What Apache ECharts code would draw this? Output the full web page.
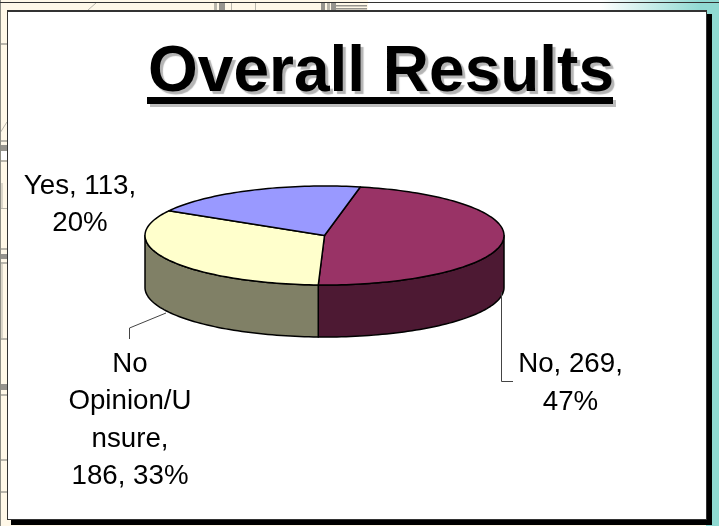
<!DOCTYPE html>
<html>
<head>
<meta charset="utf-8">
<style>html,body{margin:0;padding:0;background:#fff}#c{width:719px;height:526px}</style>
<script src="https://cdn.jsdelivr.net/npm/echarts@6/dist/echarts.min.js"></script>
</head>
<body>
<div id="c"></div>
<script>
// ---- data ----
const titleText = 'Overall Results';
const categories = ['No', 'No Opinion/Unsure', 'Yes'];
const seriesValues = [269, 186, 113];
const labelTexts = ['No, 269,\n47%', 'No\nOpinion/U\nnsure,\n186, 33%', 'Yes, 113,\n20%'];

// ---- styles and layout ----
const topColors = ['#993366', '#FFFFCC', '#9999FF'];
const sideColors = ['#4D1933', '#808066', '#4D4D80'];
const pie = { cx: 324.5, cy: 235.5, rx: 179.5, ry: 49.5, depth: 52, start: 11.5 };
const labelPos = [[570.5, 346], [130, 345.5], [80, 167.5]];
const leaders = [
  [[501.5, 292], [501.5, 381.5], [513, 381.5]],
  [[166, 313], [129.5, 328], [129.5, 339]],
  null
];
const FONT = '"Liberation Sans", Arial, Helvetica, sans-serif';
const rad = d => d * Math.PI / 180;
const total = seriesValues.reduce((a, b) => a + b, 0);

function pt(a, dy) {
  return [pie.cx + pie.rx * Math.sin(rad(a)), pie.cy - pie.ry * Math.cos(rad(a)) + (dy || 0)];
}
function arc(a0, a1, dy) {
  const out = [], n = Math.max(2, Math.ceil(Math.abs(a1 - a0) / 1.5));
  for (let i = 0; i <= n; i++) out.push(pt(a0 + (a1 - a0) * i / n, dy));
  return out;
}
function renderSlice(params, api) {
  const i = params.dataIndex;
  let before = 0;
  for (let k = 0; k < i; k++) before += seriesValues[k];
  const a0 = pie.start + before / total * 360;
  const a1 = a0 + api.value(1) / total * 360;
  const children = [];
  const s0 = Math.max(a0, 90), s1 = Math.min(a1, 270);
  if (s1 > s0) {
    children.push({
      type: 'polygon',
      shape: { points: arc(s0, s1, 0).concat(arc(s1, s0, pie.depth)) },
      style: { fill: sideColors[i], stroke: '#000', lineWidth: 1.5, lineJoin: 'round' }
    });
  }
  children.push({
    type: 'polygon',
    z2: 5,
    shape: { points: [[pie.cx, pie.cy]].concat(arc(a0, a1, 0)) },
    style: { fill: topColors[i], stroke: '#000', lineWidth: 1.5, lineJoin: 'round' }
  });
  if (leaders[i]) {
    children.push({
      type: 'polyline',
      z2: 1,
      shape: { points: leaders[i] },
      style: { fill: null, stroke: '#444', lineWidth: 1 }
    });
  }
  children.push({
    type: 'text',
    z2: 6,
    style: {
      text: labelTexts[i], x: labelPos[i][0], y: labelPos[i][1],
      align: 'center', verticalAlign: 'top', lineHeight: 37.5,
      font: '27.7px ' + FONT, fill: '#000'
    }
  });
  return { type: 'group', children };
}

// ---- slide backdrop ----
const grey = '#b9b6ac', dgrey = '#96948e';
const bg = [];
const rect = (x, y, w, h, fill) => bg.push({ type: 'rect', silent: true, z: 0, shape: { x, y, width: w, height: h }, style: { fill } });
const seg = (x1, y1, x2, y2, stroke, lw) => bg.push({ type: 'line', silent: true, z: 0, shape: { x1, y1, x2, y2 }, style: { stroke, lineWidth: lw || 1 } });
rect(0, 0, 719, 526, '#FFF8E8');
rect(368, 0, 240, 11, '#FFFFFF');
bg.push({ type: 'rect', silent: true, z: 0, shape: { x: 600, y: 0, width: 119, height: 12 },
  style: { fill: { type: 'linear', x: 0, y: 0, x2: 1, y2: 0, colorStops: [{ offset: 0, color: '#FFFFFF' }, { offset: 0.85, color: '#90DAD2' }, { offset: 1, color: '#90DAD2' }] } } });
rect(706, 0, 13, 526, '#90DAD2');
// faint lines behind the slide
[[214, 3], [219, 6], [231, 1], [255, 1], [321, 4], [327, 3], [331, 5]].forEach(v => rect(v[0], 3, v[1], 8, v[1] > 3 ? dgrey : grey));
rect(335, 5, 32, 1.5, dgrey); rect(335, 8, 32, 1.5, dgrey);
seg(88, 10, 96, 3, grey);
[[43, 2], [140, 2], [145, 6], [160, 2], [208, 1], [248, 2], [254, 5], [262, 2], [338, 2], [384, 6], [394, 2], [459, 2], [491, 2]]
  .forEach(v => rect(0, v[0], 8, v[1], v[1] > 3 ? dgrey : grey));
rect(0, 151, 8, 9, '#FFFFFF');
seg(2, 183, 2, 208, grey); seg(2, 263, 2, 338, grey);
seg(0, 133, 7, 122, grey);
seg(0.5, 0, 0.5, 526, '#8c8c84');
// top rule, shadow, card
rect(0, 2, 719, 1, '#333333');
rect(11, 14, 701, 511, '#000000');
rect(7, 10, 700, 510, '#333333');
rect(8, 12, 698, 507, '#FFFFFF');
// title underline with its shadow
rect(150, 100, 466, 7, '#BDBDBD');
rect(147, 97, 466, 7, '#000000');

const chart = echarts.init(document.getElementById('c'), null, { renderer: 'canvas' });
chart.setOption({
  animation: false,
  backgroundColor: '#fff',
  title: {
    text: titleText, left: 143, top: 36,
    textStyle: {
      fontFamily: FONT, fontSize: 64, fontWeight: 'bold', color: '#000',
      textShadowColor: '#B4B4B4', textShadowOffsetX: 3, textShadowOffsetY: 3, textShadowBlur: 1
    }
  },
  graphic: { elements: bg },
  series: [{
    type: 'custom',
    coordinateSystem: 'none',
    renderItem: renderSlice,
    silent: true,
    encode: { itemName: 0, value: 1 },
    data: categories.map((c, i) => [c, seriesValues[i]])
  }]
});
</script>
</body>
</html>
